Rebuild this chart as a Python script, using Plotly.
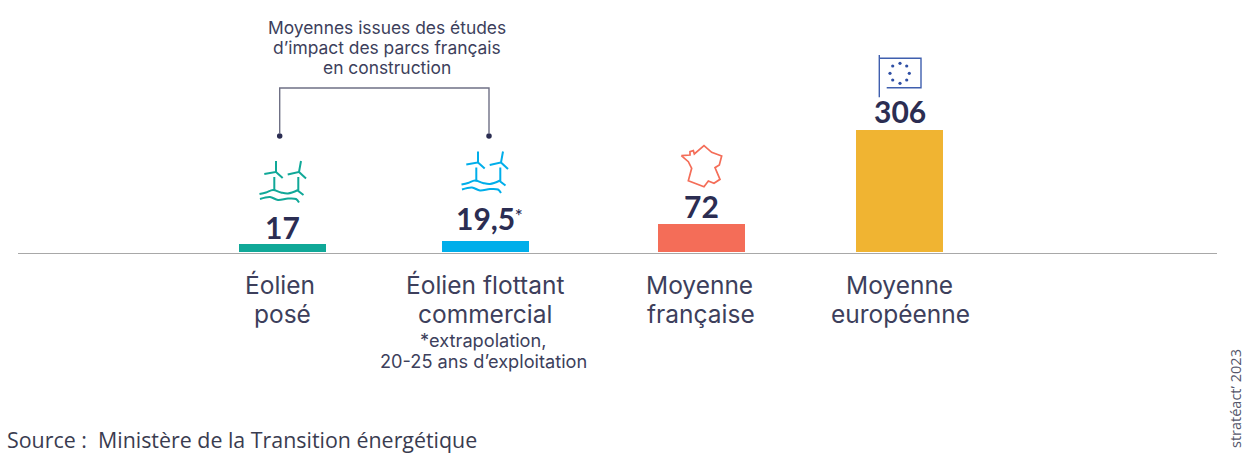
import plotly.graph_objects as go

# --- Data ---
categories = ["Éolien posé", "Éolien flottant commercial", "Moyenne française", "Moyenne européenne"]
value_labels = ["17", "19,5", "72", "306"]
bar_lengths = [20, 27.6, 70, 306]  # lengths as drawn in the picture
bar_colors = ["#10A898", "#00AEEA", "#F46D58", "#F0B432"]
bar_centers = [282.5, 485.5, 701.7, 899.7]
label_y = [227, 218, 206, 111]

INK = "#2B2D52"
TXT = "#3D3F5C"
FONT = "Inter"
W, H = 1245, 453
BASE = 252
SCALE = 122 / 306

fig = go.Figure()
fig.add_bar(
    x=bar_centers, y=bar_lengths, width=87.3, marker_color=bar_colors,
    marker_line_width=0, hoverinfo="skip", showlegend=False,
)


def stroke(points, color, width=2, spline=False):
    fig.add_scatter(
        x=[p[0] for p in points], y=[p[1] for p in points], xaxis="x2", yaxis="y2",
        mode="lines", hoverinfo="skip", showlegend=False,
        line=dict(color=color, width=width, shape="spline" if spline else "linear"),
    )


def text(x, y, s, size, color=TXT, bold=False, xanchor="center", yanchor="middle", angle=0, family=FONT):
    fig.add_annotation(
        x=x, y=y, xref="x2", yref="y2", text=f"<b>{s}</b>" if bold else s, showarrow=False,
        xanchor=xanchor, yanchor=yanchor, textangle=angle,
        font=dict(family=family, size=size, color=color),
    )


# Wind-turbine icon
def turbines(dx, dy, color):
    def t(pts):
        return [(x + dx, y + dy) for x, y in pts]
    stroke(t([(276, 161), (276, 172), (264.3, 174)]), color)
    stroke(t([(276, 172), (282.7, 178)]), color)
    stroke(t([(274.3, 177), (274.3, 191)]), color)
    stroke(t([(301, 161), (299, 172), (287.7, 174.5)]), color)
    stroke(t([(299, 172), (306, 178.5)]), color)
    stroke(t([(298.3, 177), (298.3, 191), (303.5, 195)]), color)
    stroke(t([(259.5, 194), (266, 192.5), (273, 190), (281, 192.5), (288, 193.5), (298, 190)]), color, spline=True)
    stroke(t([(260, 199), (270, 197), (278, 200), (288, 198.5), (296, 199), (299, 202.5)]), color, spline=True)


turbines(0, 0, bar_colors[0])
turbines(202, -9.5, bar_colors[1])

# France outline
fr = [(124, 347), (150, 345), (150, 335), (160, 332), (163, 342), (185, 325), (192, 317), (215, 337),
      (245, 348), (238, 375), (225, 383), (240, 418), (222, 430), (205, 423), (192, 440), (145, 422),
      (155, 385), (145, 365), (124, 347)]
stroke([(640 + x / 3, 40 + y / 3) for x, y in fr], bar_colors[2], 1.7)

# EU flag
EU = "#3F5FAE"
stroke([(879.3, 55), (879.3, 97.3)], EU, 1.4)
stroke([(879.3, 58.3), (921, 58.3), (921, 87.7), (886.7, 87.7)], EU, 1.4)
star_x = [900, 906.7, 909.3, 906.7, 900, 892.7, 890, 892.7]
star_y = [63.3, 66, 73.3, 80, 83.3, 80, 73.3, 66]
fig.add_scatter(x=star_x, y=star_y, xaxis="x2", yaxis="y2", mode="markers", hoverinfo="skip",
                showlegend=False, marker=dict(symbol="circle", size=3.2, color="#2F4FA5", line_width=0))

# Bracket
stroke([(279.7, 133), (279.7, 88), (489, 88), (489, 133)], "#6F7085", 1.4)
fig.add_scatter(x=[279.7, 489], y=[136, 136], xaxis="x2", yaxis="y2", mode="markers", hoverinfo="skip",
                showlegend=False, marker=dict(size=5.5, color=INK, line_width=0))

# Texts
for s, y in zip(["Moyennes issues des études", "d’impact des parcs français", "en construction"], [27, 47, 67]):
    text(387, y, s, 17.4)
for cx, s, y in zip(bar_centers, value_labels, label_y):
    text(cx, y, s, 30, INK, bold=True, family="Lato")
text(519, 214, "*", 15, INK)
text(280, 285, "Éolien", 24.5)
text(282, 314, "posé", 24.5)
text(485, 285, "Éolien flottant", 24.5)
text(485, 314, "commercial", 24.5)
text(483, 340, "*extrapolation,", 18.2)
text(483, 361, "20-25 ans d’exploitation", 18.2)
text(699, 285, "Moyenne", 24.5)
text(701, 314, "française", 24.5)
text(899, 285, "Moyenne", 24.5)
text(900, 314, "européenne", 24.5)
text(5, 439, "Source :  Ministère de la Transition énergétique", 21.4, "#3A3C50", xanchor="left", family="Open Sans")
text(1235.5, 347, "stratéact’ 2023", 14.5, "#55566A", yanchor="top", angle=-90, family="Open Sans")

fig.update_layout(
    width=W, height=H, margin=dict(l=0, r=0, t=0, b=0), autosize=False,
    paper_bgcolor="white", plot_bgcolor="white", bargap=0,
    xaxis=dict(range=[0, W], visible=False, fixedrange=True),
    yaxis=dict(range=[-(H - BASE) / SCALE, BASE / SCALE], visible=False, fixedrange=True),
    xaxis2=dict(range=[0, W], visible=False, overlaying="x", fixedrange=True),
    yaxis2=dict(range=[H, 0], visible=False, overlaying="y", fixedrange=True),
    shapes=[dict(type="line", xref="x2", yref="y2", x0=18, x1=1217, y0=253.5, y1=253.5,
                 line=dict(color="#A8A8A8", width=1.2))],
)
fig.write_html("out.html", config={"displayModeBar": False, "responsive": False},
               post_script="document.body.style.margin='0';document.documentElement.style.overflow='hidden';")
